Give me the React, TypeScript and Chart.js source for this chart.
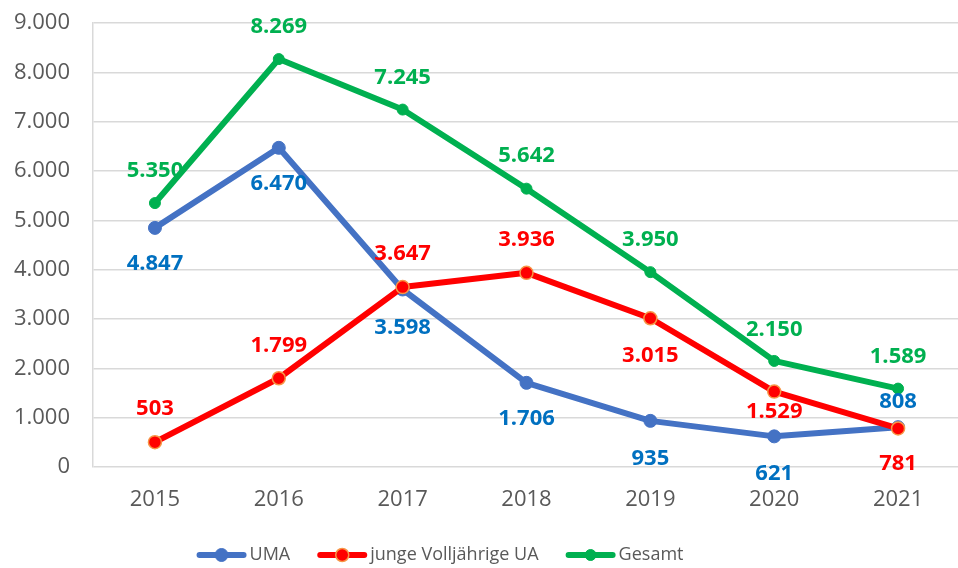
import React, { useEffect, useRef } from "react";
import { Chart, registerables } from "chart.js";

Chart.register(...registerables);

// ---- data ----
const YEARS = ["2015", "2016", "2017", "2018", "2019", "2020", "2021"];
const UMA = [4847, 6470, 3598, 1706, 935, 621, 808];
const JUNGE = [503, 1799, 3647, 3936, 3015, 1529, 781];
const GESAMT = [5350, 8269, 7245, 5642, 3950, 2150, 1589];
const SERIES_NAMES = ["UMA", "junge Volljährige UA", "Gesamt"];
const Y_MIN = 0;
const Y_MAX = 9000;
const Y_STEP = 1000;

// ---- styles ----
const UMA_COLOR = "#4472C4";
const JUNGE_COLOR = "#FF0000";
const GESAMT_COLOR = "#00B050";
const UMA_LABEL_COLOR = "#0070C0";
const JUNGE_LABEL_COLOR = "#FF0000";
const GESAMT_LABEL_COLOR = "#00B050";
// vertical offset (px) of each value label from its point
const UMA_LABEL_DY = [36, 36, 38, 36, 38, 37, -25];
const JUNGE_LABEL_DY = [-33, -33, -33, -33, 37, 20, 35];
const GESAMT_LABEL_DY = [-32, -32, -32, -33, -32, -31, -32];

const FONT = "'Open Sans', 'Noto Sans', sans-serif";
const AXIS_TEXT = "#595959";
const GRID = "#D9D9D9";

const fmt = (v: number) =>
  String(Math.round(v)).replace(/\B(?=(\d{3})+(?!\d))/g, ".");

const valueLabels = {
  id: "valueLabels",
  afterDatasetsDraw(chart: any) {
    const ctx = chart.ctx;
    ctx.save();
    ctx.font = `bold 22px ${FONT}`;
    ctx.textAlign = "center";
    ctx.textBaseline = "middle";
    chart.data.datasets.forEach((ds: any, i: number) => {
      const meta = chart.getDatasetMeta(i);
      meta.data.forEach((pt: any, j: number) => {
        ctx.fillStyle = ds.labelColor;
        ctx.fillText(fmt(ds.data[j]), pt.x, pt.y + ds.labelDy[j]);
      });
    });
    ctx.restore();
  },
};

const customLegend = {
  id: "customLegend",
  afterDraw(chart: any) {
    const ctx = chart.ctx;
    const centerX = 440;
    const y = 555;
    const symW = 50;
    const symGap = 3;
    const itemGap = 27;
    ctx.save();
    ctx.font = `18px ${FONT}`;
    ctx.textBaseline = "middle";
    const items = chart.data.datasets.map((ds: any) => ({
      ds,
      w: symW + symGap + ctx.measureText(ds.label).width,
    }));
    const total =
      items.reduce((a: number, it: any) => a + it.w, 0) +
      itemGap * (items.length - 1);
    let x = centerX - total / 2;
    items.forEach((it: any) => {
      const ds = it.ds;
      ctx.strokeStyle = ds.borderColor;
      ctx.lineWidth = 6;
      ctx.lineCap = "round";
      ctx.beginPath();
      ctx.moveTo(x + 3, y);
      ctx.lineTo(x + symW - 3, y);
      ctx.stroke();
      ctx.beginPath();
      ctx.arc(x + symW / 2, y, ds.pointRadius, 0, Math.PI * 2);
      ctx.fillStyle = ds.pointBackgroundColor;
      ctx.fill();
      ctx.lineWidth = ds.pointBorderWidth;
      ctx.strokeStyle = ds.pointBorderColor;
      ctx.stroke();
      ctx.fillStyle = AXIS_TEXT;
      ctx.textAlign = "left";
      ctx.fillText(ds.label, x + symW + symGap, y);
      x += it.w + itemGap;
    });
    ctx.restore();
  },
};

export default function App() {
  const ref = useRef<HTMLCanvasElement>(null);
  useEffect(() => {
    if (!ref.current) return;
    const mk = (
      label: string,
      data: number[],
      color: string,
      pBorder: string,
      pBorderW: number,
      radius: number,
      labelColor: string,
      labelDy: number[],
      order: number
    ) => ({
      label,
      data,
      borderColor: color,
      backgroundColor: color,
      borderWidth: 6,
      borderJoinStyle: "round",
      borderCapStyle: "round",
      pointRadius: radius,
      pointBackgroundColor: color,
      pointBorderColor: pBorder,
      pointBorderWidth: pBorderW,
      tension: 0,
      labelColor,
      labelDy,
      order,
    });
    const chart = new Chart(ref.current, {
      type: "line",
      data: {
        labels: YEARS,
        datasets: [
          mk(SERIES_NAMES[0], UMA, UMA_COLOR, UMA_COLOR, 1, 6.5, UMA_LABEL_COLOR, UMA_LABEL_DY, 3),
          mk(SERIES_NAMES[1], JUNGE, JUNGE_COLOR, "#F79646", 1.5, 6.5, JUNGE_LABEL_COLOR, JUNGE_LABEL_DY, 2),
          mk(SERIES_NAMES[2], GESAMT, GESAMT_COLOR, GESAMT_COLOR, 1, 5.5, GESAMT_LABEL_COLOR, GESAMT_LABEL_DY, 1),
        ] as any,
      },
      options: {
        responsive: false,
        animation: false,
        layout: { padding: { top: 23, left: 0, right: 0, bottom: 0 } },
        plugins: { legend: { display: false }, tooltip: { enabled: false } },
        scales: {
          x: {
            offset: true,
            grid: { display: false, drawTicks: false },
            border: { display: false },
            ticks: { color: AXIS_TEXT, font: { family: FONT, size: 22 }, padding: 20 },
            afterFit(s: any) {
              s.height = 101;
            },
          },
          y: {
            min: Y_MIN,
            max: Y_MAX,
            ticks: {
              stepSize: Y_STEP,
              color: AXIS_TEXT,
              font: { family: FONT, size: 22 },
              padding: 23,
              callback: (v: any) => fmt(Number(v)),
            },
            grid: { color: GRID, lineWidth: 1.5, drawTicks: false },
            border: { display: true, color: GRID, width: 1.5 },
            afterFit(s: any) {
              s.width = 93;
              s.paddingTop = 13;
              s.paddingBottom = 13;
            },
          },
        },
      } as any,
      plugins: [valueLabels, customLegend],
    });
    return () => chart.destroy();
  }, []);
  return (
    <div
      style={{
        position: "fixed",
        left: 0,
        top: 0,
        width: 958,
        height: 568,
        overflow: "hidden",
        background: "#fff",
      }}
    >
      <canvas ref={ref} width={968} height={568} style={{ display: "block" }} />
    </div>
  );
}
